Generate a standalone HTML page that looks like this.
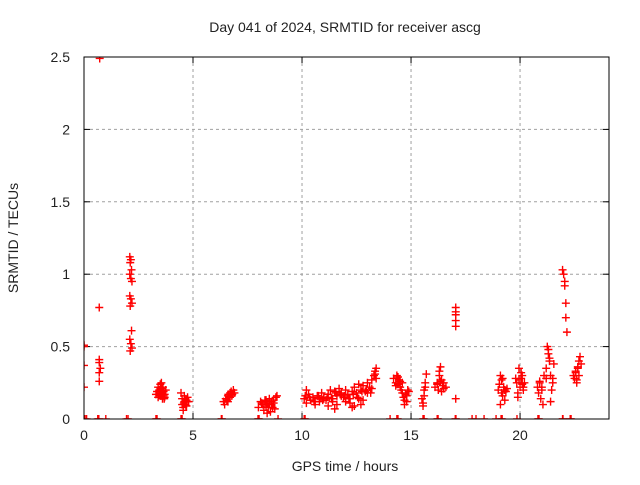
<!DOCTYPE html>
<html><head><meta charset="utf-8"><style>
body{margin:0;background:#fff;font-family:"Liberation Sans",sans-serif}
svg text{font-family:"Liberation Sans",sans-serif;font-size:14px;fill:#222}
</style></head><body>
<svg id="chart" width="640" height="480" viewBox="0 0 640 480" xmlns="http://www.w3.org/2000/svg">
<text x="345" y="32" text-anchor="middle">Day 041 of 2024, SRMTID for receiver ascg</text>
<text x="345" y="471" text-anchor="middle">GPS time / hours</text>
<text transform="translate(18,238) rotate(-90)" text-anchor="middle">SRMTID / TECUs</text>
<g id="grid"></g>
<g id="ticks"></g>
<defs><clipPath id="pc"><rect x="84" y="57" width="525" height="362"/></clipPath></defs>
<g id="pts" clip-path="url(#pc)"></g>
<rect x="84" y="57" width="525" height="362" fill="none" stroke="#000" stroke-width="1"/>
</svg>
<script>
const xTicks=[0,5,10,15,20];
const yTicks=[0,0.5,1,1.5,2,2.5];
const yLabels=["0","0.5","1","1.5","2","2.5"];
const times=[0,0,0,0,0.7,0.7,0.7,0.7,0.75,0.7,0.72,
2.1,2.15,2.12,2.18,2.1,2.15,2.2,2.1,2.15,2.2,2.12,2.18,2.1,2.15,2.2,2.12,
3.3,3.35,3.4,3.45,3.5,3.5,3.55,3.6,3.6,3.65,3.7,3.7,3.75,3.4,3.55,3.65,3.45,3.52,3.58,3.62,3.68,3.5,3.55,
4.45,4.5,4.5,4.55,4.6,4.6,4.65,4.7,4.75,4.8,4.55,4.7,4.58,4.62,4.68,4.72,
6.4,6.45,6.5,6.55,6.6,6.65,6.7,6.75,6.8,6.85,6.9,6.6,6.7,6.62,6.78,
8.0,8.1,8.2,8.25,8.3,8.35,8.4,8.5,8.55,8.6,8.65,8.7,8.75,8.8,8.85,8.4,8.6,8.15,8.45,8.5,8.7,8.35,
10.1,10.2,10.3,10.4,10.5,10.6,10.7,10.8,10.9,11.0,11.1,11.2,11.3,11.4,11.5,11.6,11.7,11.8,11.9,12.0,12.1,12.2,12.3,12.4,12.5,12.6,12.7,12.8,12.9,13.0,13.1,13.2,13.3,13.35,13.4,13.4,13.35,
10.2,10.4,10.6,10.8,11.0,11.2,11.4,11.6,11.8,12.0,12.2,12.4,12.6,12.8,13.0,13.2,11.5,12.3,12.7,
10.15,10.35,10.55,10.75,10.95,11.15,11.35,11.55,11.75,11.95,12.15,12.35,12.55,12.75,12.95,13.15,
14.2,14.3,14.35,14.4,14.45,14.5,14.55,14.6,14.65,14.7,14.75,14.8,14.85,14.9,14.5,14.7,14.3,14.4,14.6,14.8,
15.5,15.55,15.6,15.65,15.7,15.6,15.55,15.65,
16.1,16.2,16.25,16.3,16.35,16.4,16.45,16.5,16.6,16.3,16.4,16.2,16.35,16.5,
17.05,17.05,17.05,17.05,17.05,17.05,
19.0,19.05,19.1,19.15,19.2,19.25,19.3,19.35,19.4,19.1,19.2,19.15,19.3,
19.8,19.85,19.9,19.95,20.0,20.05,20.1,20.15,20.2,19.9,20.05,20.1,19.95,20.15,
20.8,20.85,20.9,20.95,21.0,21.05,21.1,21.2,21.25,21.3,21.35,21.4,21.45,21.5,21.3,21.35,21.4,21.5,21.55,20.9,21.0,21.2,
21.95,22.0,22.05,22.05,22.1,22.1,22.15,
22.45,22.5,22.55,22.6,22.65,22.7,22.75,22.8,22.6,22.7,22.55,22.65,
0.05,0.12,0.63,0.68,1.0,1.95,2.02,3.3,3.35,4.45,4.5,6.3,6.33,7.98,8.03,8.9,10.1,10.14,14.04,14.35,14.4,15.55,15.6,16.2,16.24,17.03,17.06,17.8,17.98,18.35,18.9,19.13,19.18,19.86,20.82,20.87,21.95,21.97,22.3,22.34];
const values=[0.51,0.5,0.37,0.22,0.77,0.41,0.39,0.32,0.35,0.26,2.49,
1.12,1.1,1.08,1.03,1.0,0.97,0.95,0.85,0.83,0.8,0.78,0.61,0.55,0.52,0.49,0.47,
0.17,0.19,0.15,0.2,0.18,0.24,0.16,0.21,0.14,0.19,0.17,0.15,0.2,0.22,0.25,0.16,0.17,0.2,0.18,0.22,0.14,0.16,0.19,
0.18,0.14,0.1,0.08,0.12,0.16,0.1,0.13,0.15,0.12,0.06,0.09,0.11,0.14,0.09,0.12,
0.12,0.1,0.14,0.13,0.16,0.15,0.18,0.19,0.17,0.2,0.18,0.12,0.15,0.17,0.16,
0.08,0.12,0.1,0.06,0.13,0.09,0.11,0.14,0.05,0.1,0.08,0.13,0.07,0.15,0.16,0.04,0.12,0.11,0.08,0.1,0.11,0.13,
0.14,0.2,0.17,0.13,0.15,0.12,0.16,0.14,0.18,0.15,0.13,0.17,0.2,0.14,0.19,0.16,0.21,0.18,0.15,0.2,0.17,0.14,0.19,0.22,0.18,0.24,0.2,0.23,0.19,0.25,0.22,0.27,0.3,0.33,0.35,0.28,0.31,
0.11,0.13,0.1,0.12,0.14,0.09,0.12,0.1,0.16,0.12,0.11,0.09,0.14,0.13,0.18,0.21,0.07,0.08,0.1,
0.16,0.15,0.12,0.16,0.13,0.15,0.14,0.18,0.17,0.16,0.14,0.17,0.15,0.19,0.2,0.18,
0.28,0.25,0.3,0.24,0.27,0.22,0.2,0.18,0.15,0.13,0.17,0.12,0.2,0.19,0.26,0.1,0.23,0.29,0.25,0.16,
0.14,0.11,0.2,0.25,0.31,0.16,0.09,0.22,
0.22,0.25,0.2,0.33,0.36,0.27,0.23,0.25,0.22,0.3,0.19,0.24,0.26,0.21,
0.77,0.74,0.72,0.68,0.64,0.14,
0.2,0.24,0.3,0.27,0.16,0.22,0.13,0.19,0.21,0.1,0.28,0.18,0.2,
0.28,0.25,0.18,0.35,0.22,0.28,0.3,0.2,0.25,0.15,0.32,0.24,0.27,0.22,
0.22,0.18,0.25,0.14,0.2,0.1,0.3,0.35,0.5,0.45,0.4,0.3,0.2,0.25,0.48,0.42,0.12,0.28,0.38,0.26,0.22,0.28,
1.03,1.0,0.95,0.92,0.8,0.7,0.6,
0.3,0.28,0.32,0.25,0.35,0.4,0.43,0.38,0.27,0.3,0.33,0.36,
0,0,0,0,0,0,0,0,0,0,0,0,0,0,0,0,0,0,0,0,0,0,0,0,0,0,0,0,0,0,0,0,0,0,0,0,0,0,0,0];
const L=84,R=609,T=57,B=419,XMAX=24.08,YMAX=2.5;
const xs=h=>L+h/XMAX*(R-L), ys=v=>B-v/YMAX*(B-T);
const NS="http://www.w3.org/2000/svg";
const g=document.getElementById('grid'),tk=document.getElementById('ticks'),pg=document.getElementById('pts');
function mk(tag,a,p){const e=document.createElementNS(NS,tag);for(const k in a)e.setAttribute(k,a[k]);p.appendChild(e);return e;}
xTicks.forEach(t=>{const x=xs(t);
 if(t>0){const l=mk('line',{x1:x,x2:x,y1:T,y2:B,stroke:'#a0a0a0','stroke-dasharray':'3,3'},g);
 
 }
 mk('line',{x1:x,x2:x,y1:B,y2:B-6,stroke:'#000'},tk);mk('line',{x1:x,x2:x,y1:T,y2:T+6,stroke:'#000'},tk);
 const tx=mk('text',{x:x,y:B+21,'text-anchor':'middle'},tk);tx.textContent=t;
 
 });
yTicks.forEach((t,i)=>{const y=ys(t);
 if(t>0&&t<2.5){const l=mk('line',{x1:L,x2:R,y1:y,y2:y,stroke:'#a0a0a0','stroke-dasharray':'3,3'},g);
 
 }
 mk('line',{x1:L,x2:L+6,y1:y,y2:y,stroke:'#000'},tk);mk('line',{x1:R,x2:R-6,y1:y,y2:y,stroke:'#000'},tk);
 const tx=mk('text',{x:L-14,y:y+5,'text-anchor':'end'},tk);tx.textContent=yLabels[i];
 
 });
times.forEach((t,i)=>{const x=xs(t),y=ys(values[i]);
 const e=mk('path',{d:`M${x-4},${y}h8M${x},${y-4}v8`,stroke:'#f00','stroke-width':1.4,fill:'none'},pg);
 
 });
</script>
</body></html>
